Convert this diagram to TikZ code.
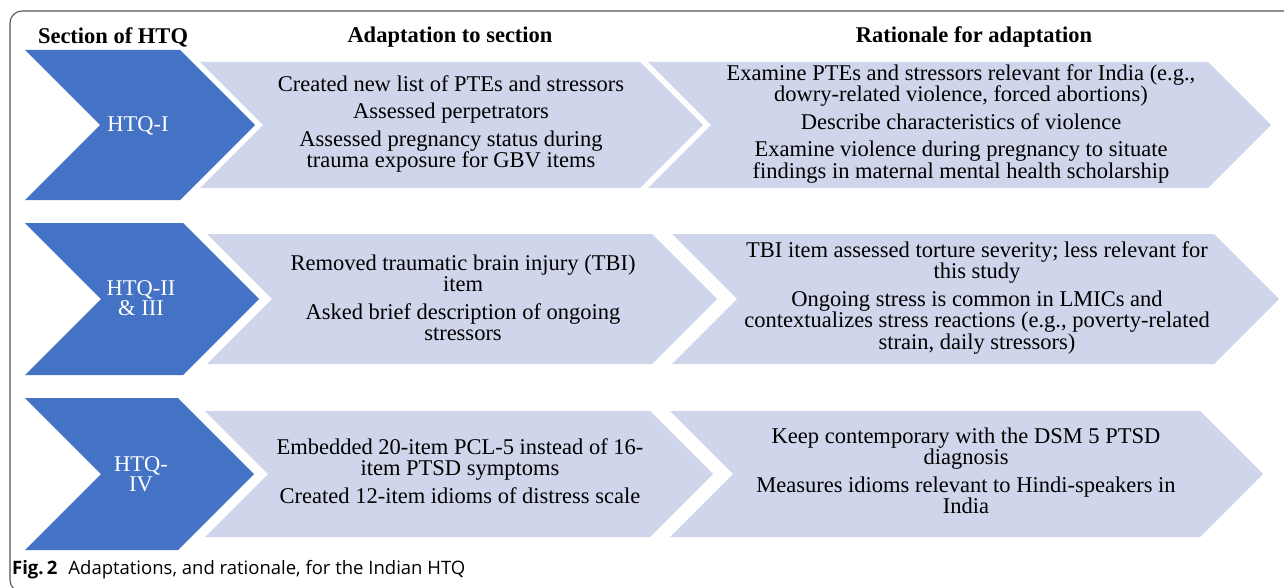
\documentclass[tikz,border=0pt]{standalone}
\usepackage{fontspec}
\setmainfont{Liberation Serif}
\newfontfamily\capfont{Open Sans}

\definecolor{htqblue}{RGB}{68,114,196}
\definecolor{htqlight}{RGB}{207,213,234}
\definecolor{framegray}{RGB}{85,85,85}

% chevron: colour, left x, top-right x, middle y, half height
\newcommand{\chevbox}[5]{%
  \fill[#1] (#2,{#4-#5}) -- (#3,{#4-#5}) -- ({#3+#5},#4) -- (#3,{#4+#5})
    -- (#2,{#4+#5}) -- ({#2+#5},#4) -- cycle;}

\begin{document}
\begin{tikzpicture}[x=1pt, y=-1pt,
    head/.style = {font=\fontsize{22.5}{24}\selectfont\bfseries},
    sect/.style = {font=\fontsize{22.5}{20}\selectfont, text=white, align=center},
    item/.style = {font=\fontsize{22.5}{21.5}\selectfont, align=center, inner sep=0pt}]
    \useasboundingbox (0,0) rectangle (1284,588);
    \draw[framegray, line width=1.1pt, rounded corners=12pt] (10,11) rectangle (1320,592);

    \node[head] (h1) at (113,37) {Section of HTQ};
    \node[head] (h2) at (450,37) {Adaptation to section};
    \node[head] (h3) at (974,37) {Rationale for adaptation};

    % row 1
    \chevbox{htqblue}{25}{180}{125}{75}
    \chevbox{htqlight}{200}{640}{125}{63}
    \chevbox{htqlight}{648}{1208}{125}{63}
    % row 2
    \chevbox{htqblue}{25}{183}{299}{76}
    \chevbox{htqlight}{207}{652}{299}{65}
    \chevbox{htqlight}{672}{1214}{299}{65}
    % row 3
    \chevbox{htqblue}{25}{178}{474}{76}
    \chevbox{htqlight}{205}{650}{474}{63}
    \chevbox{htqlight}{670}{1200}{474}{63}

    \node[sect] (s1) at (138,126) {HTQ-I};
    \node[item] (a1) at (451,124) {Created new list of PTEs and stressors\\[6pt]
        Assessed perpetrators\\[6pt]
        Assessed pregnancy status during\\ trauma exposure for GBV items};
    \node[item] (r1) at (961,124) {Examine PTEs and stressors relevant for India (e.g.,\\
        dowry-related violence, forced abortions)\\[6pt]
        Describe characteristics of violence\\[6pt]
        Examine violence during pregnancy to situate\\
        findings in maternal mental health scholarship};

    \node[sect] (s2) at (141,298) {HTQ-II\\ \& III};
    \node[item] (a2) at (463,298) {Removed traumatic brain injury (TBI)\\ item\\[6pt]
        Asked brief description of ongoing\\ stressors};
    \node[item] (r2) at (977,298) {TBI item assessed torture severity; less relevant for\\
        this study\\[6pt]
        Ongoing stress is common in LMICs and\\
        contextualizes stress reactions (e.g., poverty-related\\
        strain, daily stressors)};

    \node[sect] (s3) at (141,474) {HTQ-\\ IV};
    \node[item] (a3) at (460,471) {Embedded 20-item PCL-5 instead of 16-\\
        item PTSD symptoms\\[6pt]
        Created 12-item idioms of distress scale};
    \node[item] (r3) at (966,471) {Keep contemporary with the DSM 5 PTSD\\ diagnosis\\[6pt]
        Measures idioms relevant to Hindi-speakers in\\ India};

    \node[anchor=west, inner sep=0pt, font=\capfont\fontsize{18.5}{20}\selectfont] (cap) at (12,570)
        {\textbf{Fig.\,2}\hspace{0.6em}Adaptations, and rationale, for the Indian HTQ};
\end{tikzpicture}
\end{document}
